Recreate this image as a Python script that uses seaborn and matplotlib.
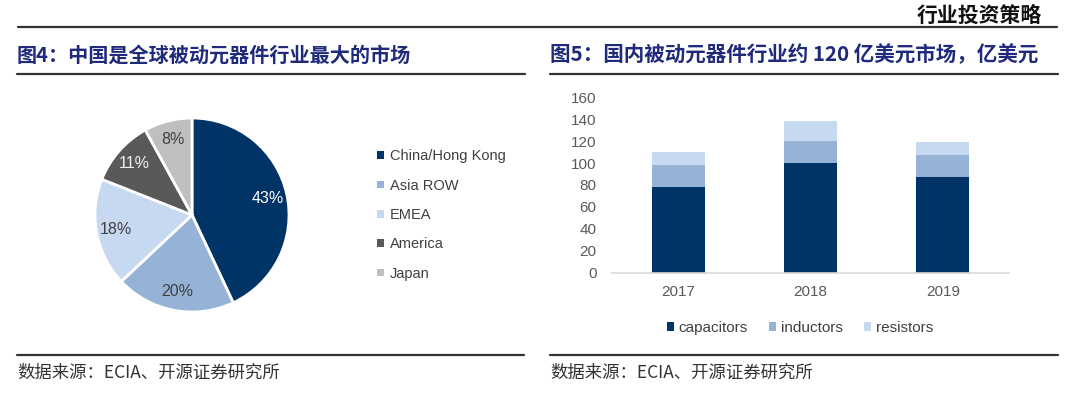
import numpy as np
import pandas as pd
import matplotlib
matplotlib.use('Agg')
import matplotlib.pyplot as plt
from matplotlib.lines import Line2D
from matplotlib.patches import Patch
import seaborn as sns

# --- data ---
regions = ['China/Hong Kong', 'Asia ROW', 'EMEA', 'America', 'Japan']
region_share = [43, 20, 18, 11, 8]
region_colors = ['#003366', '#95B3D7', '#C6D9F0', '#595959', '#BFBFBF']

years = ['2017', '2018', '2019']
capacitors = [78, 100, 87]
inductors = [20, 20, 20]
resistors = [12, 18, 12]
part_names = ['capacitors', 'inductors', 'resistors']
part_colors = ['#003366', '#95B3D7', '#C6D9F0']

title_left = '图4：中国是全球被动元器件行业最大的市场'
title_right = '图5：国内被动元器件行业约 120 亿美元市场，亿美元'
source_text = '数据来源：ECIA、开源证券研究所'
header_text = '行业投资策略'

sns.set_style('white')
plt.rcParams['font.family'] = ['Liberation Sans', 'Noto Sans CJK SC', 'DejaVu Sans']

W, H = 1080, 393
fig = plt.figure(figsize=(W / 100, H / 100), dpi=100)


def box(x0, y0, x1, y1):
    # pixel box (top-left origin) -> figure fraction rect
    return [x0 / W, 1 - y1 / H, (x1 - x0) / W, (y1 - y0) / H]


def hline(x0, x1, y, lw=1.6, color='#333333'):
    fig.add_artist(Line2D([x0 / W, x1 / W], [1 - y / H, 1 - y / H],
                          transform=fig.transFigure, lw=lw, color=color))


cjk = ['Noto Sans CJK SC', 'DejaVu Sans']
title_col = '#1F2A7C'

# header and frame lines
fig.text(1042 / W, 1 - 15 / H, header_text, ha='right', va='center',
         fontsize=15, fontweight='bold', family=cjk, color='#111111')
hline(18, 1057, 27)
fig.text(17 / W, 1 - 55 / H, title_left, ha='left', va='center',
         fontsize=14.5, fontweight='bold', family=cjk, color=title_col)
fig.text(550 / W, 1 - 55 / H, title_right, ha='left', va='center',
         fontsize=14.8, fontweight='bold', family=cjk, color=title_col)
hline(17, 525, 74)
hline(550, 1058, 74)
hline(17, 524, 355)
hline(550, 1058, 355)
fig.text(17 / W, 1 - 373 / H, source_text, ha='left', va='center',
         fontsize=12.5, family=cjk, color='#333333')
fig.text(550 / W, 1 - 373 / H, source_text, ha='left', va='center',
         fontsize=12.5, family=cjk, color='#333333')

# --- pie ---
cx, cy, R = 192, 215, 97
ax1 = fig.add_axes(box(cx - R, cy - R, cx + R, cy + R))
wedges, _, autotexts = ax1.pie(
    region_share, colors=region_colors, startangle=90, counterclock=False,
    autopct='%d%%', pctdistance=0.8,
    wedgeprops=dict(edgecolor='white', linewidth=2),
    textprops=dict(fontsize=11.5, color='#404040'))
autotexts[0].set_color('white')
autotexts[3].set_color('#F2F2F2')
ax1.set_xlim(-1, 1)
ax1.set_ylim(-1, 1)
ax1.set_aspect('equal')
ax1.axis('off')

pie_handles = [Patch(facecolor=c, edgecolor='none') for c in region_colors]
fig.legend(pie_handles, regions, loc='center left',
           bbox_to_anchor=(364 / W, 1 - 215 / H), frameon=False,
           fontsize=10.5, handlelength=0.45, handleheight=0.45,
           handletextpad=0.4, labelspacing=1.05, labelcolor='#404040')

# --- stacked bars ---
ax2 = fig.add_axes(box(612, 97.3, 1009, 272.7))
df = pd.DataFrame({'year': years, 'capacitors': capacitors,
                   'inductors': inductors, 'resistors': resistors})
df['cap_ind'] = df['capacitors'] + df['inductors']
df['total'] = df['cap_ind'] + df['resistors']

for col, color in zip(['total', 'cap_ind', 'capacitors'], part_colors[::-1]):
    sns.barplot(data=df, x='year', y=col, color=color, width=0.4,
                saturation=1, ax=ax2, edgecolor='none')

ax2.set_ylim(0, 160)
ax2.set_xlim(-0.5, 2.5)
ax2.set_yticks(np.arange(0, 161, 20))
ax2.set_xlabel('')
ax2.set_ylabel('')
ax2.tick_params(axis='both', length=0, labelsize=11, labelcolor='#595959')
ax2.tick_params(axis='y', pad=11)
ax2.tick_params(axis='x', pad=9)
for s in ['top', 'right', 'left']:
    ax2.spines[s].set_visible(False)
ax2.spines['bottom'].set_color('#D9D9D9')
ax2.spines['bottom'].set_linewidth(1.2)

bar_handles = [Patch(facecolor=c, edgecolor='none') for c in part_colors]
fig.legend(bar_handles, part_names, loc='center',
           bbox_to_anchor=(800 / W, 1 - 328 / H), ncol=3, frameon=False,
           fontsize=11, handlelength=0.45, handleheight=0.45,
           handletextpad=0.3, columnspacing=1.4, labelcolor='#404040')

fig.savefig('out.png', dpi=100)
